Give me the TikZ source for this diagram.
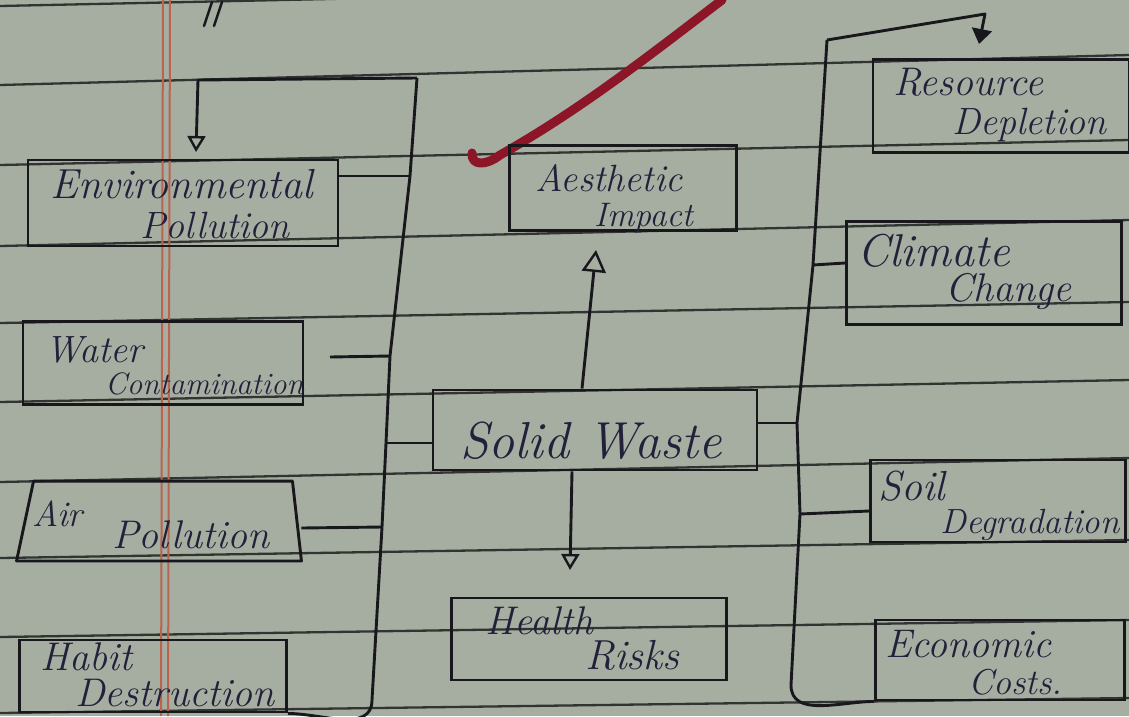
\documentclass[tikz,border=0pt]{standalone}
\usetikzlibrary{arrows.meta}
\definecolor{paper}{RGB}{166,174,161}
\definecolor{rule}{RGB}{50,52,50}
\definecolor{ink}{RGB}{24,24,28}
\definecolor{blueink}{RGB}{34,32,58}
\definecolor{margin}{RGB}{186,100,80}
\definecolor{redpen}{RGB}{140,22,40}
\tikzset{
  paperline/.style={draw=rule, line width=2.3pt},
  box/.style={draw=ink, line width=2.9pt, rectangle, inner sep=0pt},
  conn/.style={draw=ink, line width=2.9pt, line join=round},
  hw/.style={text=blueink, font=\fontsize{40}{40}\selectfont\itshape, inner sep=0pt, anchor=base west},
  openhead/.style={-{Triangle[open, length=16pt, width=18pt, line width=2.4pt]}},
  bighead/.style={-{Triangle[open, length=22pt, width=24pt, line width=2.4pt]}},
  fullhead/.style={-{Triangle[length=15pt, width=20pt]}}
}
\begin{document}
\begin{tikzpicture}[x=1pt,y=-1pt]
\useasboundingbox (0,0) rectangle (1129,716);
\fill[paper] (0,0) rectangle (1129,716);
% ruled lines
\foreach \a/\b in {6/-18, 85/55, 165/140, 246/220, 323/302, 402/380, 482/458, 558/540, 637/620, 713/698}
  \draw[paperline] (0,\a) -- (1129,\b);
% margin
\draw[margin, line width=2pt] (163,0) -- (161,716);
\draw[margin, line width=2pt] (170,0) -- (168,716);
% marks at the top
\draw[ink, line width=2.4pt, line cap=round] (204,26) -- (212,2) (214,26) -- (222,2);
% red pen stroke
\draw[redpen, line width=9pt, line cap=round, line join=round] (472,153) .. controls (471,166) and (486,166) .. (500,155) .. controls (580,110) and (650,55) .. (722,0);

% boxes
\node[box, minimum width=310pt, minimum height=86pt] (env) at (183,203) {};
\node[box, minimum width=280pt, minimum height=83pt] (water) at (163,363) {};
\node[box, draw=none, minimum width=282pt, minimum height=77pt] (air) at (159,521) {};
\draw[ink, line width=2.9pt, line join=round] ([xshift=17pt]air.north west) -- ([xshift=-9pt]air.north east) -- (air.south east) -- (air.south west) -- cycle;
\node[box, minimum width=267pt, minimum height=72pt] (habit) at (153,676) {};
\node[box, minimum width=227pt, minimum height=85pt] (aesth) at (623,188) {};
\node[box, minimum width=324pt, minimum height=80pt] (solid) at (595,430) {};
\node[box, minimum width=275pt, minimum height=82pt] (health) at (589,639) {};
\node[box, minimum width=256pt, minimum height=93pt] (resource) at (1001,106) {};
\node[box, minimum width=275pt, minimum height=103pt] (climate) at (984,273) {};
\node[box, minimum width=255pt, minimum height=82pt] (soil) at (998,501) {};
\node[box, minimum width=249pt, minimum height=80pt] (econ) at (1000,660) {};

% texts
\node[hw, font=\fontsize{42}{42}\selectfont\itshape] (envA) at (50,198) {Environmental};
\node[hw, font=\fontsize{38}{38}\selectfont\itshape] (envB) at (140,238) {Pollution};
\node[hw, font=\fontsize{38}{38}\selectfont\itshape] (waterA) at (45,362) {Water};
\node[hw, font=\fontsize{31}{31}\selectfont\itshape] (waterB) at (105,394) {Contamination};
\node[hw, font=\fontsize{36}{36}\selectfont\itshape] (airA) at (32,526) {Air};
\node[hw] (airB) at (112,548) {Pollution};
\node[hw] (habitA) at (40,670) {Habit};
\node[hw] (habitB) at (75,706) {Destruction};
\node[hw, font=\fontsize{38}{38}\selectfont\itshape] (aesthA) at (535,191) {Aesthetic};
\node[hw, font=\fontsize{34}{34}\selectfont\itshape] (aesthB) at (594,226) {Impact};
\node[hw, font=\fontsize{52}{52}\selectfont\itshape] (solidT) at (460,458) {Solid Waste};
\node[hw] (healthA) at (485,634) {Health};
\node[hw, font=\fontsize{42}{42}\selectfont\itshape] (healthB) at (585,669) {Risks};
\node[hw] (resA) at (893,95) {Resource};
\node[hw, font=\fontsize{38}{38}\selectfont\itshape] (resB) at (952,134) {Depletion};
\node[hw, font=\fontsize{46}{46}\selectfont\itshape] (climA) at (857,266) {Climate};
\node[hw, font=\fontsize{40}{40}\selectfont\itshape] (climB) at (945,301) {Change};
\node[hw, font=\fontsize{42}{42}\selectfont\itshape] (soilA) at (878,500) {Soil};
\node[hw, font=\fontsize{35}{35}\selectfont\itshape] (soilB) at (940,533) {Degradation};
\node[hw] (econA) at (885,657) {Economic};
\node[hw, font=\fontsize{36}{36}\selectfont\itshape] (econB) at (968,694) {Costs.};

% left bus
\coordinate (lTop) at (417,78);
\coordinate (lEnv) at (410,176);
\coordinate (lWater) at (390,356);
\coordinate (lSolid) at (386,443);
\coordinate (lAir) at (382,527);
\coordinate (lBot) at (372,700);
\coordinate (lCorner) at (198,80);
\coordinate (envTip) at (196,152);
\draw[conn] (lTop) -- (lEnv) -- (lWater) -- (lSolid) -- (lAir) -- (lBot) to[out=270,in=0] (habit.south east);
\draw[conn, openhead] (lTop) -- (lCorner) -- (envTip);
\draw[conn] ([yshift=27pt]env.east) -- (lEnv);
\coordinate (waterEnd) at (330,357);
\draw[conn] (waterEnd) -- (lWater);
\draw[conn] ([yshift=-7pt]air.east) -- (lAir);
\draw[conn] ([yshift=-13pt]solid.west) -- (lSolid);

% right bus
\coordinate (rTop) at (827,40);
\coordinate (rClim) at (813,265);
\coordinate (rSolid) at (797,423);
\coordinate (rSoil) at (800,514);
\coordinate (rBot) at (791,685);
\coordinate (rCorner) at (985,14);
\coordinate (resTip) at (979,44);
\draw[conn] (rTop) -- (rClim) -- (rSolid) -- (rSoil) -- (rBot) to[out=270,in=180] (econ.south west);
\draw[conn, fullhead] (rTop) -- (rCorner) -- (resTip);
\draw[conn] (rClim) -- ([yshift=10pt]climate.west);
\draw[conn] ([yshift=7pt]solid.east) -- (rSolid);
\draw[conn] (rSoil) -- ([yshift=-10pt]soil.west);

% vertical arrows
\coordinate (aestTip) at (596,250);
\coordinate (healthTip) at (570,570);
\draw[conn, bighead] ([xshift=-13pt]solid.north) -- (aestTip);
\draw[conn, openhead] ([xshift=-23pt]solid.south) -- (healthTip);
\end{tikzpicture}
\end{document}
